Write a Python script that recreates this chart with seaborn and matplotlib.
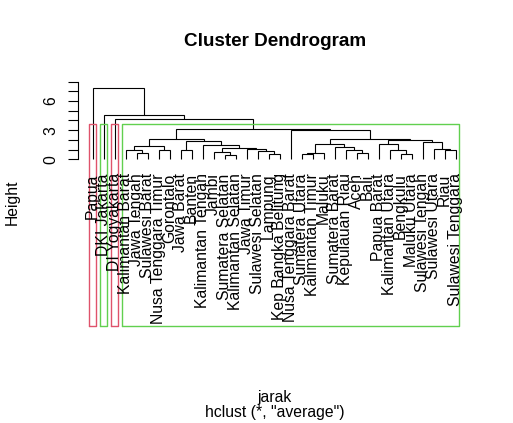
import matplotlib
matplotlib.use("Agg")
import matplotlib.pyplot as plt
import seaborn as sns

# Leaf labels in the order they appear along the x axis
labels = [
    "Papua", "DKI Jakarta", "DI Yogyakarta", "Kalimantan Barat", "Jawa Tengah",
    "Sulawesi Barat", "Nusa Tenggara Timur", "Gorontalo", "Jawa Barat", "Banten",
    "Kalimantan Tengah", "Jambi", "Sumatera Selatan", "Kalimantan Selatan",
    "Jawa Timur", "Sulawesi Selatan", "Lampung", "Kep Bangka Belitung",
    "Nusa Tenggara Barat", "Sumatera Utara", "Kalimantan Timur", "Maluku",
    "Sumatera Barat", "Kepulauan Riau", "Aceh", "Bali", "Papua Barat",
    "Kalimantan Utara", "Bengkulu", "Maluku Utara", "Sulawesi Tengah",
    "Sulawesi Utara", "Riau", "Sulawesi Tenggara",
]

# hclust style merge table: negative = leaf position (1-based), positive = earlier merge
merge_left = [-13, -20, -17, -29, 2, -25, -5, -12, -16, -9, -28, -4, -7, -24, -33,
              -15, -32, 8, -23, 12, -11, 5, -27, -31, 10, 23, 20, 22, -19, 27, -3, -2, -1]
merge_right = [-14, -21, -18, -30, -22, -26, -6, 1, 3, -10, 4, 7, -8, 6, -34,
               9, 15, 16, 14, 13, 18, 19, 11, 17, 21, 24, 25, 26, 28, 29, 30, 31, 32]
merge_height = [0.48, 0.50, 0.59, 0.59, 0.62, 0.65, 0.69, 0.75, 0.85, 0.93, 0.93,
                1.00, 1.00, 1.00, 1.00, 1.03, 1.10, 1.19, 1.27, 1.37, 1.44, 1.55,
                1.62, 1.80, 1.86, 1.96, 2.10, 2.13, 3.00, 3.16, 4.20, 4.54, 7.35]

k_clusters = 4
box_colors = ["#DF536B", "#61D04F"]

sns.set_style("white")
plt.rcParams['font.family'] = ['Liberation Sans', 'DejaVu Sans']
plt.rcParams['text.color'] = 'black'
plt.rcParams['ytick.color'] = 'black'
plt.rcParams['axes.labelcolor'] = 'black'

n = len(labels)
fig = plt.figure(figsize=(5.13, 4.23), dpi=100)
ax = fig.add_axes([78.2 / 513, (423 - 326) / 423, 392 / 513, 248 / 423])

# draw the tree
merge_x = []


def node_xy(i):
    if i < 0:
        return -i, 0.0
    return merge_x[i - 1], merge_height[i - 1]


for l, r, h in zip(merge_left, merge_right, merge_height):
    xl, yl = node_xy(l)
    xr, yr = node_xy(r)
    merge_x.append((xl + xr) / 2)
    ax.plot([xl, xl, xr, xr], [yl, h, h, yr], color="black", lw=0.8,
            solid_capstyle="butt", solid_joinstyle="miter")

# leaf labels
for i, lab in enumerate(labels):
    ax.text(i + 1, -1.45, lab, rotation=90, ha="center", va="top", fontsize=11.3,
            color="black")


# cut into k clusters, like rect.hclust
def leaves(i):
    if i < 0:
        return [-i]
    return leaves(merge_left[i - 1]) + leaves(merge_right[i - 1])


groups = [len(merge_height)]
while len(groups) < k_clusters:
    top = max([g for g in groups if g > 0], key=lambda g: merge_height[g - 1])
    idx = groups.index(top)
    groups[idx:idx + 1] = [merge_left[top - 1], merge_right[top - 1]]

sizes = [len(leaves(g)) for g in groups]
hs = sorted(merge_height, reverse=True)
box_top = (hs[k_clusters - 2] + hs[k_clusters - 1]) / 2
ybot = -17.2
start = 0
for j, s in enumerate(sizes):
    x0 = start + 0.66
    x1 = start + s + 0.33
    ax.plot([x0, x0, x1, x1, x0], [ybot, box_top, box_top, ybot, ybot],
            color=box_colors[j % 2], lw=1.0, clip_on=False)
    start += s

ax.set_xlim(-0.32, n + 1.32)
ax.set_ylim(ybot, 8.38)

for side in ["top", "right", "bottom"]:
    ax.spines[side].set_visible(False)
ax.spines["left"].set_bounds(0, 8)
ax.spines["left"].set_color("black")
ax.spines["left"].set_linewidth(0.8)
ax.set_xticks([])
ax.set_yticks(range(9))
ax.set_yticklabels(["0", "", "", "3", "", "", "6", "", ""])
ax.tick_params(axis="y", left=True, length=7.2, width=0.8, pad=7,
               labelsize=11.3, color="black", labelcolor="black", direction="out")
for t in ax.get_yticklabels():
    t.set_rotation(90)
    t.set_va("center")

fig.text(275 / 513, 1 - 42 / 423, "Cluster Dendrogram", ha="center", va="center",
         fontsize=13.6, fontweight="bold")
fig.text(12 / 513, 1 - 202 / 423, "Height", rotation=90, ha="center", va="center",
         fontsize=11.3)
fig.text(275 / 513, 1 - 397 / 423, "jarak", ha="center", va="center", fontsize=11.3)
fig.text(275 / 513, 1 - 412 / 423, 'hclust (*, "average")', ha="center", va="center",
         fontsize=11.3)

plt.savefig("out.png", dpi=100)
